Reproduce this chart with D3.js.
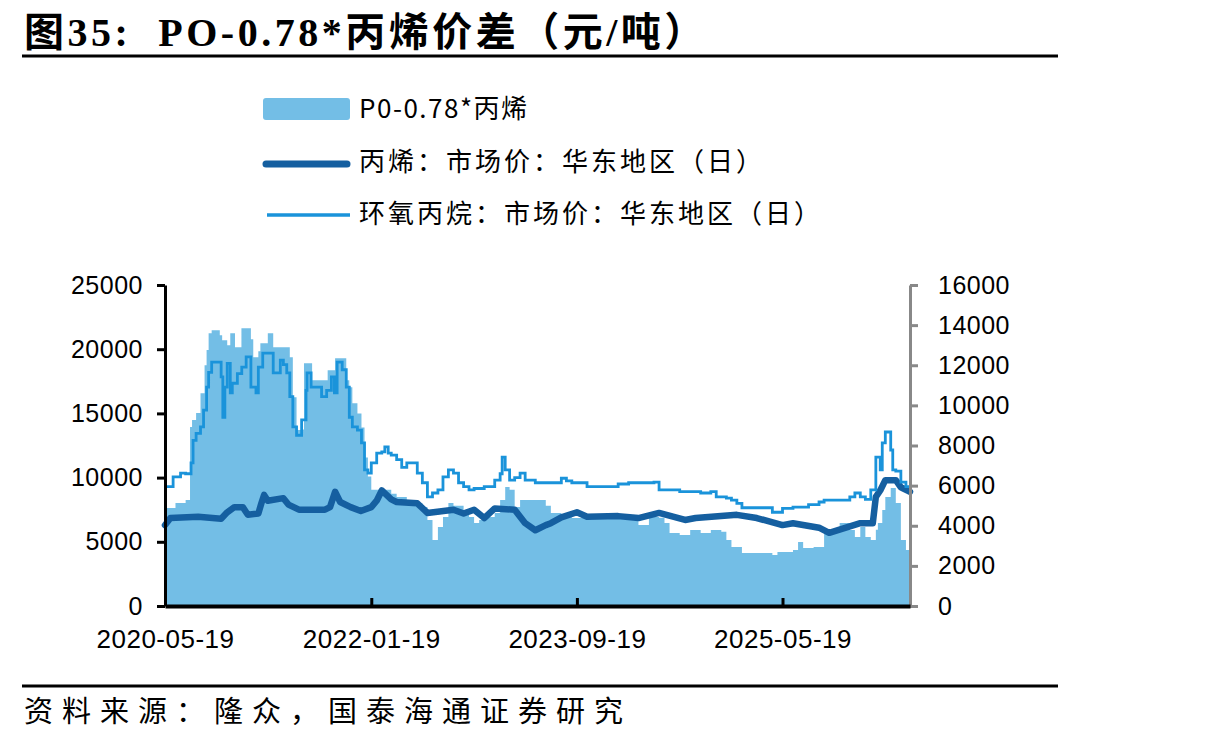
<!DOCTYPE html>
<html>
<head>
<meta charset="utf-8">
<script src="https://cdn.jsdelivr.net/npm/d3@7"></script>
<style>
  body { margin: 0; background: #fff; }
  svg { display: block; }
</style>
</head>
<body>
<div id="chart-area"></div>
<script>
// PO - 0.78*丙烯 spread (right axis)
var spreadData = [
  ["2020-05-19",4880],["2020-06-19",5130],["2020-07-19",5280],["2020-08-01",8920],["2020-08-07",9270],
  ["2020-08-19",9620],["2020-09-01",10600],["2020-09-13",12000],["2020-09-19",12760],["2020-09-25",13600],
  ["2020-10-04",13750],["2020-10-28",13500],["2020-11-04",13250],["2020-11-19",13000],["2020-11-28",13600],
  ["2020-12-12",12900],["2020-12-31",13850],["2021-01-19",13850],["2021-01-28",13300],["2021-02-04",12400],
  ["2021-02-19",12700],["2021-02-25",13100],["2021-03-19",13600],["2021-04-04",12900],["2021-05-04",12900],
  ["2021-05-23",12400],["2021-06-01",10400],["2021-06-12",8770],["2021-06-27",8800],["2021-07-04",12100],
  ["2021-07-28",11250],["2021-08-25",11250],["2021-09-12",11750],["2021-10-04",12350],["2021-10-25",12350],
  ["2021-11-06",11250],["2021-11-15",10900],["2021-11-24",10100],["2021-12-09",9600],["2021-12-21",8900],
  ["2021-12-30",7400],["2022-01-09",6450],["2022-01-19",5800],["2022-03-19",5600],["2022-04-04",5430],
  ["2022-05-04",5280],["2022-06-04",5130],["2022-06-19",4930],["2022-07-04",4290],["2022-07-19",3290],
  ["2022-08-04",3940],["2022-08-19",4440],["2022-09-04",5130],["2022-09-19",5000],["2022-10-19",4640],
  ["2022-11-04",4440],["2022-11-19",4140],["2022-12-04",4290],["2022-12-19",4440],["2023-01-19",4640],
  ["2023-02-04",5280],["2023-02-19",5930],["2023-03-04",5800],["2023-03-19",4930],["2023-04-04",5280],
  ["2023-06-19",5000],["2023-07-04",4640],["2023-08-04",4440],["2023-09-04",4390],["2024-02-19",4290],
  ["2024-03-19",4040],["2024-04-19",4440],["2024-05-19",4400],["2024-06-04",4140],["2024-06-19",3640],
  ["2024-07-19",3540],["2024-08-19",3790],["2024-09-19",3640],["2024-10-19",3790],["2024-11-19",3700],
  ["2024-12-04",3290],["2024-12-19",2940],["2025-01-19",2640],["2025-04-19",2540],["2025-05-04",2690],
  ["2025-06-19",2790],["2025-07-04",3190],["2025-07-19",2890],["2025-08-19",2940],["2025-09-19",3640],
  ["2025-10-19",3790],["2025-11-04",4140],["2025-12-04",3790],["2025-12-19",3440],["2026-01-04",3940],
  ["2026-01-19",3440],["2026-02-04",3290],["2026-02-19",3800],["2026-02-25",4140],["2026-03-10",4790],
  ["2026-03-19",5430],["2026-04-04",5880],["2026-04-19",5130],["2026-05-04",3290],["2026-05-19",2790],
  ["2026-05-31",2790]
];

// 丙烯：市场价：华东地区（日） (left axis)
var propyleneData = [
  ["2020-05-19",6300],["2020-06-04",6850],["2020-08-25",6950],["2020-11-01",6800],["2020-11-19",7300],
  ["2020-12-10",7700],["2021-01-04",7700],["2021-01-19",7100],["2021-02-19",7200],["2021-02-28",8000],
  ["2021-03-08",8650],["2021-03-19",8200],["2021-05-04",8400],["2021-05-19",7900],["2021-06-19",7500],
  ["2021-09-04",7500],["2021-09-19",7700],["2021-10-04",8900],["2021-10-19",8100],["2021-11-19",7700],
  ["2021-12-19",7400],["2022-01-19",7700],["2022-02-04",8200],["2022-02-19",9000],["2022-03-19",8300],
  ["2022-04-04",8100],["2022-06-04",8000],["2022-07-04",7250],["2022-09-19",7500],["2022-10-19",7200],
  ["2022-11-19",7500],["2022-12-19",6850],["2023-01-19",7600],["2023-03-19",7500],["2023-04-19",6450],
  ["2023-05-19",5900],["2023-06-19",6300],["2023-07-04",6450],["2023-08-04",6900],["2023-09-19",7300],
  ["2023-10-19",6950],["2024-01-19",7000],["2024-03-19",6850],["2024-05-19",7250],["2024-08-04",6700],
  ["2024-09-04",6850],["2025-01-04",7100],["2025-03-04",6850],["2025-05-19",6300],["2025-06-19",6450],
  ["2025-09-04",6100],["2025-10-04",5700],["2026-01-04",6450],["2026-02-10",6450],["2026-02-19",8500],
  ["2026-03-04",9000],["2026-03-19",9800],["2026-04-19",9800],["2026-05-04",9250],["2026-05-31",8900]
];

// 环氧丙烷：市场价：华东地区（日） (left axis)
var poData = [
  ["2020-05-19",9300],["2020-06-12",10050],["2020-07-04",10350],["2020-07-19",10300],["2020-08-04",11150],
  ["2020-08-10",12900],["2020-08-19",13450],["2020-09-01",13950],["2020-09-10",15250],["2020-09-19",17050],
  ["2020-09-25",18200],["2020-10-04",19000],["2020-10-28",19000],["2020-11-01",17850],["2020-11-06",14700],
  ["2020-11-12",17050],["2020-11-19",18900],["2020-11-28",16600],["2020-12-04",17350],["2020-12-19",18100],
  ["2021-01-01",18600],["2021-01-14",19400],["2021-01-28",17050],["2021-02-12",16600],["2021-02-19",18600],
  ["2021-03-04",19700],["2021-03-19",19700],["2021-04-04",18150],["2021-04-25",19150],["2021-05-04",18800],
  ["2021-05-14",18150],["2021-05-23",16300],["2021-06-01",13950],["2021-06-12",13300],["2021-06-27",14500],
  ["2021-07-10",16800],["2021-07-13",18150],["2021-07-25",17050],["2021-08-10",17050],["2021-08-25",16300],
  ["2021-09-09",16800],["2021-09-23",17850],["2021-10-02",16600],["2021-10-10",19000],["2021-10-25",18400],
  ["2021-11-06",17050],["2021-11-15",14700],["2021-11-24",13950],["2021-12-09",13700],["2021-12-21",12700],
  ["2021-12-30",10600],["2022-01-09",10350],["2022-01-19",11150],["2022-02-04",11900],["2022-02-19",12000],
  ["2022-02-28",12400],["2022-03-10",11900],["2022-03-19",11750],["2022-04-04",11400],["2022-04-19",10800],
  ["2022-05-04",11150],["2022-06-04",10350],["2022-06-19",9600],["2022-07-04",8500],["2022-07-19",8800],
  ["2022-08-04",9050],["2022-08-19",10050],["2022-09-04",10600],["2022-09-19",10350],["2022-10-04",9600],
  ["2022-10-19",9300],["2022-11-04",9050],["2022-11-19",9150],["2022-12-19",9300],["2023-01-19",9800],
  ["2023-02-04",10300],["2023-02-10",11600],["2023-02-19",10600],["2023-03-04",9800],["2023-03-19",10000],
  ["2023-04-04",10350],["2023-04-19",9800],["2023-05-19",9600],["2023-08-04",9950],["2023-08-19",9750],
  ["2023-09-04",9600],["2023-10-19",9300],["2024-01-19",9500],["2024-02-19",9600],["2024-05-04",9650],
  ["2024-05-19",9050],["2024-07-19",8900],["2024-09-19",8800],["2024-10-19",8900],["2024-11-04",8500],
  ["2024-12-04",8400],["2024-12-19",8250],["2025-01-04",8000],["2025-01-19",7650],["2025-04-19",7300],
  ["2025-05-19",7600],["2025-06-19",7700],["2025-08-04",7900],["2025-09-04",8100],["2025-09-19",8250],
  ["2025-12-04",8500],["2025-12-19",8800],["2026-01-04",8500],["2026-01-19",8300],["2026-02-04",9050],
  ["2026-02-19",11600],["2026-03-04",10600],["2026-03-10",12700],["2026-03-19",13550],["2026-03-28",13550],
  ["2026-04-04",12150],["2026-04-10",10600],["2026-04-19",10500],["2026-05-04",9650],["2026-05-19",9300],
  ["2026-05-31",9300]
];

var leftTicks = [0, 5000, 10000, 15000, 20000, 25000];
var rightTicks = [0, 2000, 4000, 6000, 8000, 10000, 12000, 14000, 16000];
var xTickLabels = ["2020-05-19", "2022-01-19", "2023-09-19", "2025-05-19"];
var seriesNames = ["P0-0.78*丙烯", "丙烯：市场价：华东地区（日）", "环氧丙烷：市场价：华东地区（日）"];

var colorArea = "#73bee6",
    colorPropylene = "#155fa0",
    colorPO = "#1a93da";

var W = 1213, H = 741;
var plot = {left: 165, right: 910, top: 285, bottom: 606};

var svg = d3.select("#chart-area").append("svg")
    .attr("width", W)
    .attr("height", H);

var parseTime = d3.timeParse("%Y-%m-%d");
var fontNum = "'Liberation Sans', Arial, sans-serif";
var fontCJK = "'Noto Sans CJK SC', 'Noto Sans', sans-serif";

// Scales
var x = d3.scaleTime()
    .domain([parseTime("2020-05-19"), parseTime("2026-05-31")])
    .range([plot.left, plot.right]);
var yLeft = d3.scaleLinear().domain([0, 25000]).range([plot.bottom, plot.top]);
var yRight = d3.scaleLinear().domain([0, 16000]).range([plot.bottom, plot.top]);

// Title + rules
svg.append("text")
    .attr("x", 24)
    .attr("y", 46)
    .attr("font-family", "'Liberation Serif', 'Noto Sans CJK SC', serif")
    .attr("font-weight", "bold")
    .attr("font-size", 40)
    .attr("letter-spacing", 3.5)
    .style("white-space", "pre")
    .attr("fill", "#000")
    .text("图35:  PO-0.78*丙烯价差（元/吨）");

svg.append("line")
    .attr("x1", 22).attr("x2", 1058)
    .attr("y1", 56).attr("y2", 56)
    .attr("stroke", "#000").attr("stroke-width", 3);

svg.append("line")
    .attr("x1", 22).attr("x2", 1058)
    .attr("y1", 686).attr("y2", 686)
    .attr("stroke", "#000").attr("stroke-width", 3);

svg.append("text")
    .attr("x", 24)
    .attr("y", 722)
    .attr("font-family", fontCJK)
    .attr("font-size", 29)
    .attr("letter-spacing", 9)
    .attr("fill", "#000")
    .text("资料来源：隆众，国泰海通证券研究");

// Legend
var legend = svg.append("g").attr("font-family", fontCJK).attr("font-size", 26);
legend.append("rect")
    .attr("x", 263).attr("y", 98).attr("width", 87).attr("height", 22).attr("rx", 3)
    .attr("fill", colorArea);
legend.append("line")
    .attr("x1", 266).attr("x2", 347).attr("y1", 164).attr("y2", 164)
    .attr("stroke", colorPropylene).attr("stroke-width", 7).attr("stroke-linecap", "round");
legend.append("line")
    .attr("x1", 267).attr("x2", 350).attr("y1", 215).attr("y2", 215)
    .attr("stroke", colorPO).attr("stroke-width", 3.5);
[109, 162, 214].forEach(function(yy, i) {
    legend.append("text")
        .attr("x", 359).attr("y", yy)
        .attr("dy", "0.35em")
        .attr("letter-spacing", i === 0 ? 1.5 : 3)
        .attr("fill", "#000")
        .text(seriesNames[i]);
});

// Series
var parse = function(arr) {
    return arr.map(function(d) { return {date: parseTime(d[0]), value: d[1]}; });
};
var spread = parse(spreadData),
    propylene = parse(propyleneData),
    po = parse(poData);

var area = d3.area()
    .curve(d3.curveStepAfter)
    .x(function(d) { return x(d.date); })
    .y0(yRight(0))
    .y1(function(d) { return yRight(d.value); });

svg.append("path")
    .datum(spread)
    .attr("fill", colorArea)
    .attr("d", area);

var lineLeft = d3.line()
    .x(function(d) { return x(d.date); })
    .y(function(d) { return yLeft(d.value); });

svg.append("path")
    .datum(propylene)
    .attr("fill", "none")
    .attr("stroke", colorPropylene)
    .attr("stroke-width", 6.5)
    .attr("stroke-linejoin", "round")
    .attr("stroke-linecap", "round")
    .attr("d", lineLeft.curve(d3.curveLinear));

svg.append("path")
    .datum(po)
    .attr("fill", "none")
    .attr("stroke", colorPO)
    .attr("stroke-width", 2.8)
    .attr("d", d3.line()
        .curve(d3.curveStepAfter)
        .x(function(d) { return x(d.date); })
        .y(function(d) { return yLeft(d.value); }));

// Axes
var leftAxis = svg.append("g")
    .attr("transform", "translate(" + plot.left + ",0)")
    .call(d3.axisLeft(yLeft).tickValues(leftTicks).tickSizeInner(8).tickSizeOuter(0).tickPadding(14)
        .tickFormat(d3.format("d")));
leftAxis.selectAll("path, line").attr("stroke", "#000").attr("stroke-width", 3);
leftAxis.selectAll("text")
    .attr("font-family", fontNum).attr("font-size", 25).attr("letter-spacing", 0.5).attr("fill", "#000");

var rightAxis = svg.append("g")
    .attr("transform", "translate(" + plot.right + ",0)")
    .call(d3.axisRight(yRight).tickValues(rightTicks).tickSizeInner(8).tickSizeOuter(0).tickPadding(20)
        .tickFormat(d3.format("d")));
rightAxis.selectAll("path, line").attr("stroke", "#888").attr("stroke-width", 3);
rightAxis.selectAll("text")
    .attr("font-family", fontNum).attr("font-size", 25).attr("letter-spacing", 0.5).attr("fill", "#000");

var bottomAxis = svg.append("g")
    .attr("transform", "translate(0," + plot.bottom + ")")
    .call(d3.axisBottom(x).tickValues(xTickLabels.map(parseTime)).tickSizeInner(-8).tickSizeOuter(0)
        .tickPadding(24).tickFormat(d3.timeFormat("%Y-%m-%d")));
bottomAxis.select("path").attr("stroke", "#000").attr("stroke-width", 4);
bottomAxis.selectAll("line").attr("stroke", "#000").attr("stroke-width", 3);
bottomAxis.selectAll("text")
    .attr("font-family", fontNum).attr("font-size", 26).attr("letter-spacing", 0.5).attr("fill", "#000");
</script>
</body>
</html>
